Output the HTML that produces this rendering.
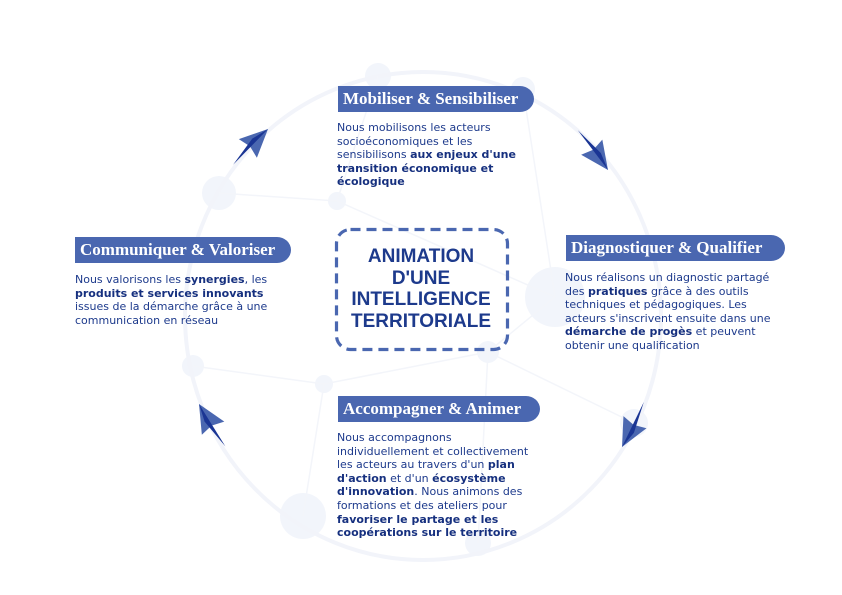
<!DOCTYPE html>
<html><head><meta charset="utf-8"><style>
html,body{margin:0;padding:0;background:#fff;}
body{width:842px;height:595px;overflow:hidden;position:relative;font-family:"DejaVu Sans","Liberation Sans",sans-serif;}
.t{position:absolute;height:26px;background:#4a67b0;color:#fff;font-family:"Liberation Serif",serif;font-weight:bold;font-size:17px;line-height:26px;padding-left:5px;box-sizing:border-box;border-radius:0 14px 14px 0/0 13px 13px 0;white-space:nowrap;}
.p{position:absolute;font-size:11px;line-height:13.6px;color:#1d3a8c;white-space:nowrap;}
.p b{color:#16307f;}
svg{position:absolute;left:0;top:0;}
</style></head><body>
<svg width="842" height="595">
<g fill="#f2f5fb" stroke="none">
<circle cx="378" cy="76" r="13"/><circle cx="523" cy="89" r="12"/><circle cx="219" cy="193" r="17"/>
<circle cx="337" cy="201" r="9"/><circle cx="555" cy="297" r="30"/><circle cx="193" cy="366" r="11"/>
<circle cx="324" cy="384" r="9"/><circle cx="303" cy="516" r="23"/><circle cx="478" cy="543" r="13"/>
<circle cx="634" cy="423" r="14"/><circle cx="488" cy="352" r="11"/>
</g>
<g fill="none" stroke="#f3f5fa" stroke-width="1.5">
<ellipse cx="423" cy="316" rx="238" ry="244" stroke-width="4" stroke="#f2f4fa"/>
<path d="M219 193 L337 201 L555 297 L488 352 L324 384 L193 366 M337 201 L378 76 M523 89 L555 297 M324 384 L303 516 M488 352 L634 423 M488 352 L478 543"/>
</g>
<rect x="336.5" y="229.5" width="171" height="120" rx="14" fill="none" stroke="#4a67b0" stroke-width="3.2" stroke-dasharray="10,6"/>
<g font-family="Liberation Sans,sans-serif" font-weight="bold" font-size="19" fill="#1d3a8c" text-anchor="middle">
<text x="421" y="262">ANIMATION</text><text x="421" y="284">D'UNE</text>
<text x="421" y="305">INTELLIGENCE</text><text x="421" y="327">TERRITORIALE</text>
</g>
<defs><g id="ar"><polygon points="0,0 -28,-13 -25,0 -28,13" fill="#4a67b0"/><polygon points="-50,1.5 0,0 -18,-4" fill="#1a3594"/></g></defs>
<use href="#ar" transform="translate(268,129) rotate(-44)"/>
<use href="#ar" transform="translate(608,170) rotate(54.5)"/>
<use href="#ar" transform="translate(622,447) rotate(117.6)"/>
<use href="#ar" transform="translate(199,404) rotate(239.8)"/>
</svg>
<div class="t" style="left:338px;top:86px;width:196px;">Mobiliser &amp; Sensibiliser</div>
<div class="p" style="left:337px;top:121px;">Nous mobilisons les acteurs<br>socioéconomiques et les<br>sensibilisons <b>aux enjeux d'une</b><br><b>transition économique et</b><br><b>écologique</b></div>
<div class="t" style="left:75px;top:237px;width:216px;">Communiquer &amp; Valoriser</div>
<div class="p" style="left:75px;top:273px;">Nous valorisons les <b>synergies</b>, les<br><b>produits et services innovants</b><br>issues de la démarche grâce à une<br>communication en réseau</div>
<div class="t" style="left:566px;top:235px;width:219px;">Diagnostiquer &amp; Qualifier</div>
<div class="p" style="left:565px;top:271px;">Nous réalisons un diagnostic partagé<br>des <b>pratiques</b> grâce à des outils<br>techniques et pédagogiques. Les<br>acteurs s'inscrivent ensuite dans une<br><b>démarche de progès</b> et peuvent<br>obtenir une qualification</div>
<div class="t" style="left:338px;top:396px;width:202px;">Accompagner &amp; Animer</div>
<div class="p" style="left:337px;top:431px;">Nous accompagnons<br>individuellement et collectivement<br>les acteurs au travers d'un <b>plan</b><br><b>d'action</b> et d'un <b>écosystème</b><br><b>d'innovation</b>. Nous animons des<br>formations et des ateliers pour<br><b>favoriser le partage et les</b><br><b>coopérations sur le territoire</b></div>
</body></html>
